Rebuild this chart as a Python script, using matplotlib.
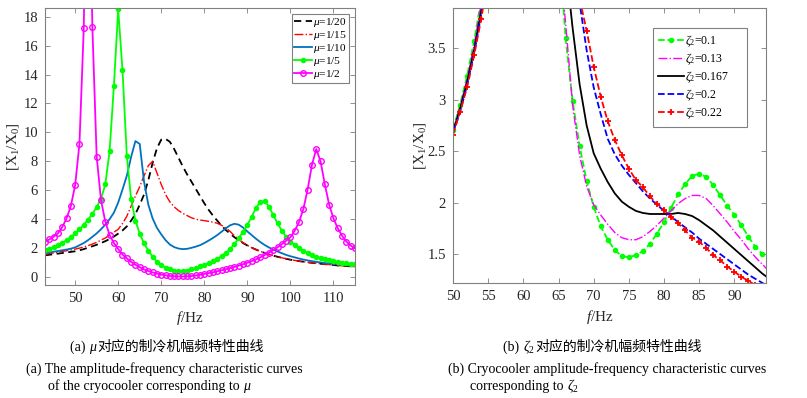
import matplotlib
matplotlib.use("Agg")
import matplotlib.pyplot as plt
import numpy as np

plt.rcParams['font.family'] = ['Liberation Serif', 'Noto Sans CJK SC', 'DejaVu Sans']
plt.rcParams['mathtext.fontset'] = 'custom'
plt.rcParams['mathtext.rm'] = 'Liberation Serif'
plt.rcParams['mathtext.it'] = 'Liberation Serif:italic'
plt.rcParams['mathtext.bf'] = 'Liberation Serif:bold'

# ---------------- data: left panel (mu) ----------------
f_a = list(range(43, 116))
mu_1_20 = [1.50, 1.54, 1.58, 1.62, 1.66, 1.70, 1.74, 1.78, 1.85, 1.93,
           2.03, 2.13, 2.23, 2.35, 2.48, 2.63, 2.80, 3.00, 3.22, 3.50,
           3.90, 4.35, 5.00, 5.70, 6.70, 7.90, 8.90, 9.50, 9.55, 9.35,
           8.85, 8.25, 7.65, 7.10, 6.60, 6.10, 5.60, 5.10, 4.65, 4.25,
           3.90, 3.55, 3.25, 3.00, 2.75, 2.55, 2.35, 2.18, 2.03, 1.90,
           1.78, 1.67, 1.57, 1.48, 1.40, 1.33, 1.26, 1.20, 1.15, 1.10,
           1.06, 1.02, 0.98, 0.95, 0.92, 0.89, 0.86, 0.83, 0.80, 0.78,
           0.76, 0.74, 0.72]
mu_1_15 = [1.57, 1.62, 1.67, 1.72, 1.77, 1.82, 1.87, 1.93, 2.00, 2.08,
           2.17, 2.28, 2.40, 2.55, 2.70, 2.90, 3.10, 3.30, 3.70, 4.20,
           4.90, 5.60, 6.25, 7.00, 7.70, 8.00, 7.20, 6.40, 5.70, 5.20,
           4.85, 4.60, 4.40, 4.25, 4.10, 4.00, 3.94, 3.90, 3.85, 3.80,
           3.72, 3.58, 3.40, 3.15, 2.85, 2.60, 2.38, 2.20, 2.03, 1.90,
           1.78, 1.67, 1.57, 1.48, 1.40, 1.33, 1.27, 1.20, 1.15, 1.10,
           1.06, 1.02, 0.99, 0.95, 0.92, 0.89, 0.86, 0.83, 0.80, 0.78,
           0.76, 0.74, 0.72]
mu_1_10 = [1.66, 1.70, 1.75, 1.80, 1.85, 1.90, 1.96, 2.05, 2.20, 2.35,
           2.55, 2.78, 3.02, 3.30, 3.62, 4.00, 4.45, 5.15, 6.05, 7.00,
           8.30, 9.40, 9.20, 6.60, 5.00, 4.05, 3.40, 2.95, 2.55, 2.25,
           2.07, 1.97, 1.93, 1.95, 2.02, 2.10, 2.20, 2.35, 2.52, 2.70,
           2.90, 3.13, 3.37, 3.58, 3.68, 3.62, 3.42, 3.15, 2.90, 2.65,
           2.42, 2.22, 2.05, 1.90, 1.77, 1.65, 1.53, 1.44, 1.36, 1.28,
           1.21, 1.15, 1.10, 1.05, 1.01, 0.97, 0.94, 0.91, 0.88, 0.85,
           0.83, 0.81, 0.79]
mu_1_5 = [1.85, 1.95, 2.07, 2.20, 2.36, 2.55, 2.76, 3.02, 3.30, 3.62,
          3.97, 4.35, 4.85, 5.40, 6.40, 8.70, 13.2, 18.5, 14.3, 8.40,
          5.40, 3.90, 3.00, 2.33, 1.82, 1.41, 1.06, 0.83, 0.64, 0.53,
          0.45, 0.42, 0.42, 0.45, 0.53, 0.64, 0.75, 0.85, 0.96, 1.09,
          1.25, 1.45, 1.68, 1.93, 2.29, 2.68, 3.14, 3.60, 4.18, 4.76,
          5.20, 5.25, 4.87, 4.29, 3.72, 3.21, 2.79, 2.45, 2.22, 1.99,
          1.82, 1.66, 1.53, 1.42, 1.33, 1.25, 1.17, 1.10, 1.04, 0.99,
          0.95, 0.92, 0.89]
mu_1_2 = [2.45, 2.60, 2.78, 3.02, 3.45, 4.05, 4.90, 6.35, 9.20, 17.2,
          35.0, 17.3, 8.33, 5.33, 3.83, 2.91, 2.35, 1.94, 1.55, 1.29,
          1.05, 0.85, 0.68, 0.53, 0.42, 0.32, 0.24, 0.17, 0.12, 0.08,
          0.05, 0.04, 0.04, 0.05, 0.07, 0.11, 0.16, 0.21, 0.27, 0.33,
          0.40, 0.47, 0.54, 0.62, 0.70, 0.79, 0.89, 0.99, 1.10, 1.22,
          1.36, 1.52, 1.68, 1.86, 2.05, 2.27, 2.50, 2.75, 3.20, 3.80,
          4.70, 6.05, 7.75, 8.85, 8.00, 6.40, 5.00, 4.05, 3.37, 2.85,
          2.45, 2.17, 1.98]
labels_a = [r'$\mu$=1/20', r'$\mu$=1/15', r'$\mu$=1/10', r'$\mu$=1/5', r'$\mu$=1/2']

# ---------------- data: right panel (zeta2) ----------------
f_b = list(range(50, 96))
z_010 = [2.71, 2.95, 3.23, 3.57, 3.97, 4.50, 5.20, 6.00, 6.60, 6.50,
         6.00, 5.60, 5.40, 5.30, 5.20, 4.60, 3.60, 2.99, 2.55, 2.21,
         1.96, 1.77, 1.64, 1.54, 1.48, 1.47, 1.49, 1.53, 1.60, 1.70,
         1.81, 1.95, 2.08, 2.18, 2.26, 2.28, 2.25, 2.17, 2.07, 1.97,
         1.88, 1.78, 1.67, 1.57, 1.50, 1.44]
z_013 = [2.70, 2.93, 3.20, 3.53, 3.93, 4.45, 5.10, 5.70, 6.00, 5.90,
         5.60, 5.30, 5.10, 4.90, 4.70, 4.50, 3.75, 2.95, 2.46, 2.16,
         1.98, 1.88, 1.79, 1.71, 1.66, 1.64, 1.64, 1.67, 1.72, 1.78,
         1.85, 1.92, 1.99, 2.04, 2.07, 2.07, 2.04, 1.97, 1.89, 1.81,
         1.72, 1.64, 1.55, 1.47, 1.40, 1.33]
z_0167 = [2.69, 2.91, 3.17, 3.48, 3.86, 4.30, 4.80, 5.20, 5.40, 5.35,
          5.20, 5.00, 4.85, 4.70, 4.55, 4.45, 4.33, 3.70, 3.15, 2.75,
          2.48, 2.33, 2.20, 2.09, 2.01, 1.96, 1.92, 1.90, 1.89, 1.89,
          1.89, 1.89, 1.90, 1.89, 1.87, 1.83, 1.78, 1.73, 1.67, 1.61,
          1.55, 1.49, 1.43, 1.37, 1.31, 1.26]
z_020 = [2.68, 2.88, 3.14, 3.45, 3.82, 4.25, 4.70, 5.00, 5.10, 5.05,
         4.95, 4.85, 4.75, 4.65, 4.55, 4.40, 4.20, 4.05, 3.94, 3.48,
         3.12, 2.86, 2.62, 2.47, 2.36, 2.27, 2.19, 2.11, 2.04, 1.98,
         1.92, 1.87, 1.81, 1.76, 1.71, 1.65, 1.60, 1.55, 1.50, 1.45,
         1.40, 1.35, 1.30, 1.26, 1.22, 1.18]
z_022 = [2.66, 2.88, 3.12, 3.43, 3.78, 4.20, 4.60, 4.85, 4.95, 4.90,
         4.80, 4.70, 4.60, 4.50, 4.40, 4.30, 4.20, 4.10, 3.98, 3.67,
         3.32, 3.03, 2.79, 2.61, 2.46, 2.33, 2.22, 2.15, 2.06, 1.99,
         1.93, 1.86, 1.80, 1.73, 1.66, 1.62, 1.56, 1.49, 1.44, 1.38,
         1.33, 1.28, 1.24, 1.20, 1.16, 1.12]
labels_b = [r'$\zeta_2$=0.1', r'$\zeta_2$=0.13', r'$\zeta_2$=0.167', r'$\zeta_2$=0.2', r'$\zeta_2$=0.22']

# ---------------- figure ----------------
W, H = 807, 398
fig = plt.figure(figsize=(W / 100, H / 100), dpi=100)

ax1 = fig.add_axes([45 / W, 1 - 285 / H, 310 / W, 277 / H])
ax2 = fig.add_axes([453 / W, 1 - 283 / H, 313 / W, 275 / H])

spine_c = '#808080'
txt_c = '#262626'
for ax in (ax1, ax2):
    for s in ax.spines.values():
        s.set_color(spine_c)
        s.set_linewidth(0.8)
    ax.tick_params(direction='in', top=True, right=True, length=3.5,
                   width=0.6, color=spine_c, labelcolor=txt_c, labelsize=10.5,
                   pad=5)

# left panel
ax1.plot(f_a, mu_1_20, '--', color='black', lw=1.3, dashes=(4, 2.5), label=labels_a[0])
ax1.plot(f_a, mu_1_15, '-.', color='#FF0000', lw=1.0, label=labels_a[1])
ax1.plot(f_a, mu_1_10, '-', color='#0072BD', lw=1.3, label=labels_a[2])
ax1.plot(f_a, mu_1_5, '-', color='#00FF00', lw=1.3, marker='.', ms=6, label=labels_a[3])
ax1.plot(f_a, mu_1_2, '-', color='#FF00FF', lw=1.3, marker='o', ms=4, mfc='none',
         mew=1.0, label=labels_a[4])
ax1.set_xlim(43, 115)
ax1.set_ylim(-0.55, 18.6)
ax1.set_xticks(range(50, 111, 10))
ax1.set_yticks(range(0, 19, 2))
ax1.set_xlabel(r'$f$/Hz', fontsize=11, color=txt_c)
ax1.set_ylabel(r'[X$_1$/X$_0$]', fontsize=11, color=txt_c)
ax1.xaxis.set_label_coords((190 - 45) / 310, -(309 - 285) / 277)
ax1.yaxis.set_label_coords(-(45 - 21) / 310, 0.5)
leg1 = ax1.legend(loc='upper right', bbox_to_anchor=(0.981, 0.978), borderaxespad=0,
                  fontsize=8.2, handlelength=1.6, handletextpad=0.1, labelspacing=0.0,
                  borderpad=0.15, fancybox=False, framealpha=1, edgecolor='#808080',
                  numpoints=1)
leg1.get_frame().set_linewidth(0.8)

# right panel
ax2.plot(f_b, z_010, '--', color='#00FF00', lw=1.3, marker='.', ms=6, label=labels_b[0])
ax2.plot(f_b, z_013, '-.', color='#FF00FF', lw=1.0, label=labels_b[1])
ax2.plot(f_b, z_0167, '-', color='black', lw=1.3, label=labels_b[2])
ax2.plot(f_b, z_020, '--', color='#0000FF', lw=1.3, label=labels_b[3])
ax2.plot(f_b, z_022, '--', color='#FF0000', lw=1.3, marker='+', ms=4, mew=1.3, label=labels_b[4])
ax2.set_xlim(50, 94.5)
ax2.set_ylim(1.22, 3.89)
ax2.set_xticks(range(50, 91, 5))
ax2.set_yticks([1.5, 2, 2.5, 3, 3.5])
ax2.set_yticklabels(['1.5', '2', '2.5', '3', '3.5'])
ax2.set_xlabel(r'$f$/Hz', fontsize=11, color=txt_c)
ax2.set_ylabel(r'[X$_1$/X$_0$]', fontsize=11, color=txt_c)
ax2.xaxis.set_label_coords((600 - 453) / 313, -(308 - 283) / 275)
ax2.yaxis.set_label_coords(-(453 - 428) / 313, 0.5)
handles, labs = ax2.get_legend_handles_labels()
labs[2] = labs[2] + '     '
leg2 = ax2.legend(handles, labs, loc='upper left', bbox_to_anchor=(0.639, 0.927),
                  borderaxespad=0, fontsize=8.5, handlelength=2.2, handletextpad=0.1,
                  labelspacing=0.2, borderpad=0.45, fancybox=False, framealpha=1,
                  edgecolor='#808080', numpoints=1)
leg2.get_frame().set_linewidth(0.8)

# ---------------- captions ----------------
renderer = fig.canvas.get_renderer()


def runs(x_px, base_px, parts, size=10):
    x = x_px / W
    y = 1 - base_px / H
    for s, kw in parts:
        t = fig.text(x, y, s, fontsize=size, va='baseline', ha='left', color='black', **kw)
        bb = t.get_window_extent(renderer=renderer)
        x = bb.x1 / W


serif = dict(family=['Liberation Serif'])
cjk = dict(family=['Noto Sans CJK SC'])
runs(70, 351, [('(a) ', serif), (r'$\mu$', serif), ('对应的制冷机幅频特性曲线', cjk)])
runs(26, 373, [('(a) The amplitude-frequency characteristic curves', serif)])
runs(48, 390, [('of the cryocooler corresponding to ', serif), (r'$\mu$', serif)])
runs(503, 351, [('(b) ', serif), (r'$\zeta_2$ ', serif), ('对应的制冷机幅频特性曲线', cjk)])
runs(448, 373, [('(b) Cryocooler amplitude-frequency characteristic curves', serif)])
runs(470, 390, [('corresponding to ', serif), (r'$\zeta_2$', serif)])

fig.savefig('out.png', dpi=100)
